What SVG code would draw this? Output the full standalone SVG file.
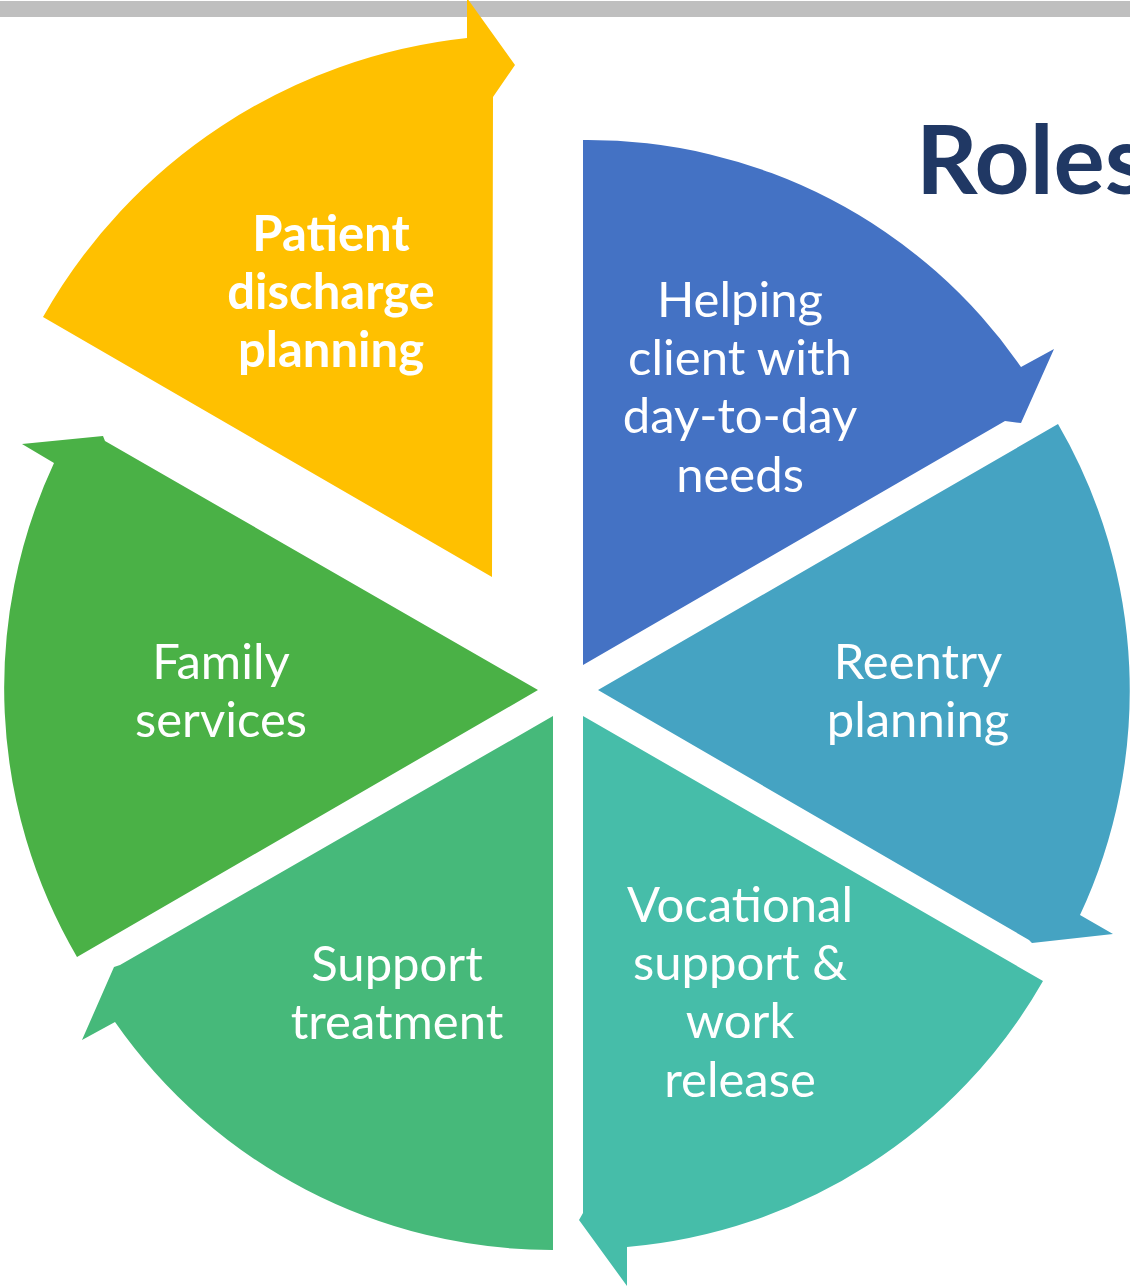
<svg xmlns="http://www.w3.org/2000/svg" width="1130" height="1288" viewBox="0 0 1130 1288">
<style>
.lbl{font-family:Lato,"Open Sans","Liberation Sans",sans-serif;font-size:49px;fill:#FFFFFF;text-anchor:middle}
.bold{font-weight:bold}
.title{font-family:Lato,"Open Sans","Liberation Sans",sans-serif;font-size:96px;font-weight:bold;fill:#203864}
</style>
<rect x="0" y="1" width="1130" height="16" fill="#BFBFBF"/>
<text class="title" x="916" y="194">Roles</text>
<g id="node-patient-discharge">
<path d="M492,577 L43,317 A555,555 0 0 1 467,38 L467,-2 L515,65 L493,97 Z" fill="#FFC000"/>
<text class="lbl bold" x="331" y="251">Patient</text>
<text class="lbl bold" x="331" y="309">discharge</text>
<text class="lbl bold" x="331" y="367">planning</text>
</g>
<g id="node-helping-client">
<path d="M583,665 L583,140 A527,527 0 0 1 1021,367 L1054,349 L1021,423 L1005,421 Z" fill="#4472C4"/>
<text class="lbl" x="740" y="317">Helping</text>
<text class="lbl" x="740" y="375">client with</text>
<text class="lbl" x="740" y="433">day-to-day</text>
<text class="lbl" x="740" y="492">needs</text>
</g>
<g id="node-reentry">
<path d="M598,690 L1058,424 A531,531 0 0 1 1080,915 L1113,934 L1032,943 L1029,940 Z" fill="#45A3C2"/>
<text class="lbl" x="918" y="679">Reentry</text>
<text class="lbl" x="918" y="737">planning</text>
</g>
<g id="node-vocational">
<path d="M583,716 L1043,981 A531,531 0 0 1 627,1247 L627,1286 L579,1220 L583,1213 Z" fill="#46BDA9"/>
<text class="lbl" x="740" y="922">Vocational</text>
<text class="lbl" x="740" y="980">support &amp;</text>
<text class="lbl" x="740" y="1038">work</text>
<text class="lbl" x="740" y="1097">release</text>
</g>
<g id="node-support-treatment">
<path d="M553,716 L553,1250 A533,533 0 0 1 115,1022 L82,1040 L114,967 L120,965 Z" fill="#46B97A"/>
<text class="lbl" x="397" y="981">Support</text>
<text class="lbl" x="397" y="1039">treatment</text>
</g>
<g id="node-family-services">
<path d="M538,690 L77,957 A533,533 0 0 1 54,463 L22,444 L103,436 L105,441 Z" fill="#4AB146"/>
<text class="lbl" x="221" y="679">Family</text>
<text class="lbl" x="221" y="737">services</text>
</g>
<g id="connectors"/>
</svg>
